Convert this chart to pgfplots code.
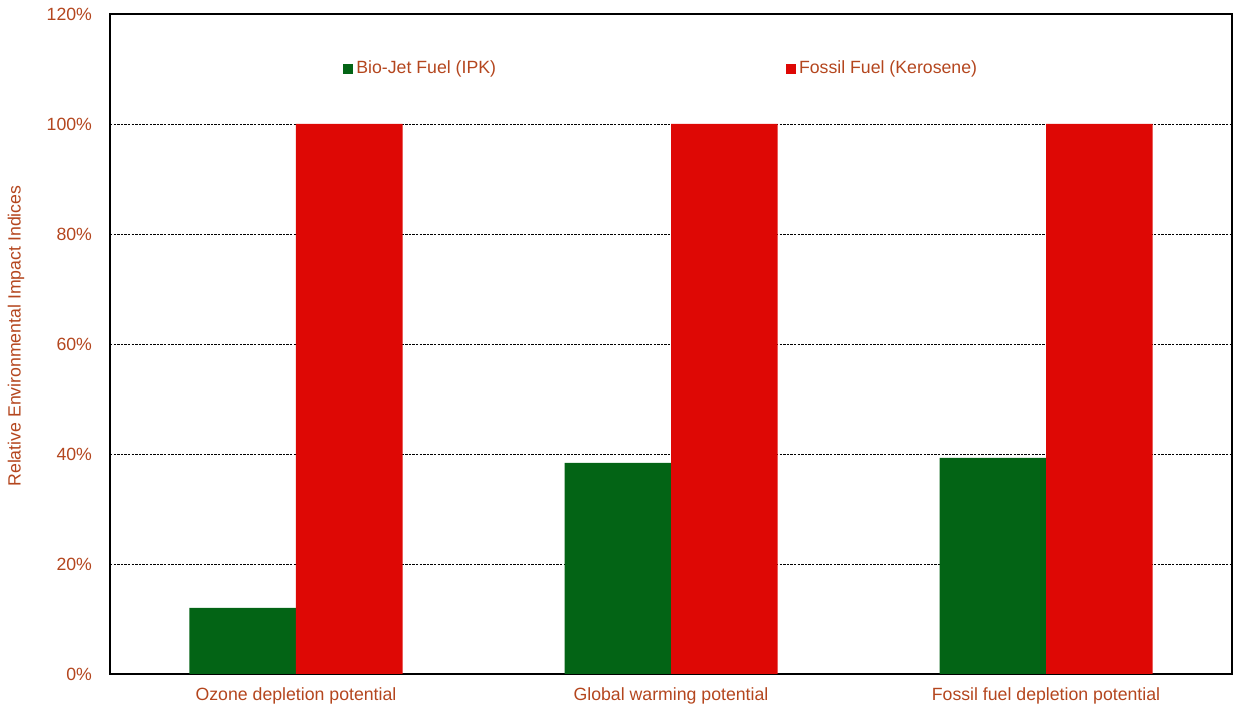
\documentclass[border=0pt]{standalone}
\usepackage{pgfplots}
\pgfplotsset{compat=1.18}
\usepackage{fontspec}
\setmainfont{Liberation Sans}
\definecolor{txt}{RGB}{180,70,30}
\definecolor{bio}{RGB}{3,100,21}
\definecolor{fos}{RGB}{222,8,5}
\begin{document}
\begin{tikzpicture}
\begin{axis}[
  scale only axis,
  width=561pt, height=330pt,
  ybar=0pt, bar width=53.25pt,
  xmin=-0.496, xmax=2.496,
  ymin=0, ymax=120,
  xtick={0,1,2},
  xticklabels={Ozone depletion potential, Global warming potential, Fossil fuel depletion potential},
  ytick={0,20,...,120},
  yticklabel={\pgfmathprintnumber{\tick}\%},
  /pgf/number format/assume math mode=true,
  major tick length=0pt,
  ymajorgrids,
  grid style={black, dash pattern=on 1.2pt off 0.6pt, line width=0.4pt},
  axis line style={black, line width=0.7pt},
  tick label style={font=\fontsize{8.85}{10}\selectfont, text=txt},
  yticklabel style={xshift=-5.5pt},
  xticklabel style={yshift=-3.3pt},
  ylabel={Relative Environmental Impact Indices},
  ylabel style={font=\fontsize{8.85}{10}\selectfont, text=txt, at={(axis description cs:-0.0838,0.512)}, anchor=center, rotate=0},
  legend columns=2,
  legend style={draw=none, fill=none, at={(0.2077,0.917)}, anchor=west,
    font=\fontsize{8.85}{10}\selectfont, text=txt, inner sep=0pt,
    nodes={inner sep=0pt},
    /tikz/every even column/.append style={column sep=145pt}},
  legend cell align=left,
]
\addplot[fill=bio, draw=none, legend image code/.code={\fill[bio] (0pt,-2.5pt) rectangle (5pt,2.5pt);}] coordinates {(0,12) (1,38.4) (2,39.3)};
\addplot[fill=fos, draw=none, legend image code/.code={\fill[fos] (0pt,-2.5pt) rectangle (5pt,2.5pt);}] coordinates {(0,100) (1,100) (2,100)};
\legend{\,Bio-Jet Fuel (IPK), \,Fossil Fuel (Kerosene)}
\end{axis}
\pgfresetboundingbox
\path ([xshift=-55pt,yshift=-18.5pt]current axis.south west) rectangle ([xshift=0.5pt,yshift=7pt]current axis.north east);
\end{tikzpicture}
\end{document}
